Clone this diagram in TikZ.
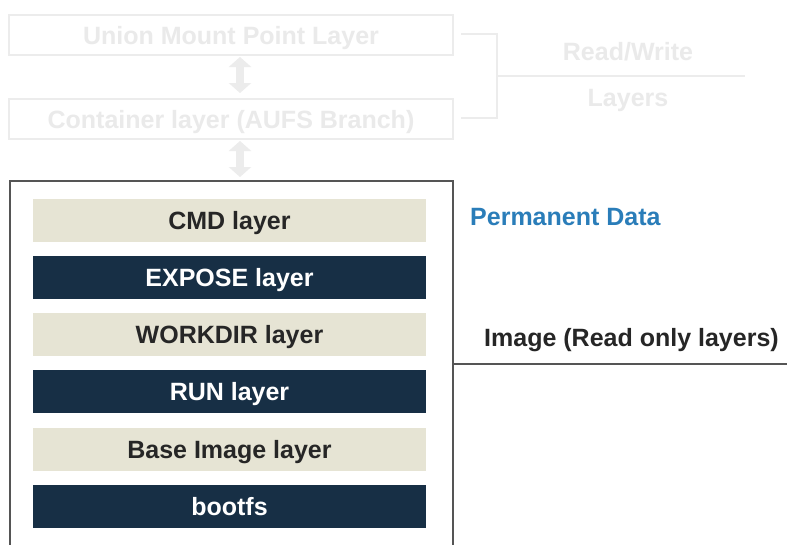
\documentclass[tikz,border=0pt]{standalone}
\usepackage{fontspec}
\setmainfont{Liberation Sans}
\usetikzlibrary{arrows.meta}
\definecolor{beige}{HTML}{E6E4D4}
\definecolor{navy}{HTML}{172F45}
\definecolor{faded}{HTML}{ECECEC}
\definecolor{fadetext}{HTML}{EAEAEA}
\definecolor{permblue}{HTML}{2A7DB9}
\definecolor{boxgrey}{HTML}{555555}
\begin{document}
\begin{tikzpicture}[x=1pt,y=-1pt,
  every node/.style={font=\fontsize{25}{30}\selectfont\bfseries, inner sep=0pt, text height=18pt, text depth=0pt},
  fadebox/.style={draw=faded, line width=1.5pt, minimum width=444pt, minimum height=40pt, text=fadetext},
  lightlayer/.style={fill=beige, minimum width=393pt, minimum height=43pt, text=black!85},
  darklayer/.style={fill=navy, minimum width=393pt, minimum height=43pt, text=white},
  fadearrow/.style={draw=faded, line width=8pt, {Triangle[width=22pt,length=10pt]}-{Triangle[width=22pt,length=10pt]}},
  fadeline/.style={draw=faded, line width=1.5pt},
  greyline/.style={draw=boxgrey, line width=2pt}]
\useasboundingbox (0,0) rectangle (787,544);
\fill[white] (0,0) rectangle (787,544);
% faded read/write part
\node[fadebox] (union) at (231,35) {Union Mount Point Layer};
\node[fadebox] (cont) at (231,119) {Container layer (AUFS Branch)};
\coordinate (a1) at (240,57);
\coordinate (a2) at (240,93);
\coordinate (a3) at (240,141);
\coordinate (a4) at (240,177);
\draw[fadearrow] (a1) -- (a2);
\draw[fadearrow] (a3) -- (a4);
\coordinate (b1) at (461,34);
\coordinate (b2) at (497,34);
\coordinate (b3) at (497,118);
\coordinate (b4) at (461,118);
\coordinate (bm) at (497,76);
\coordinate (be) at (745,76);
\draw[fadeline] (b1) -- (b2) -- (b3) -- (b4);
\draw[fadeline] (bm) -- (be);
\node[text=fadetext] (rw) at (628,51) {Read/Write};
\node[text=fadetext] (lay) at (628,97) {Layers};
% image box
\coordinate (m1) at (10,550);
\coordinate (m2) at (10,181);
\coordinate (m3) at (453,181);
\coordinate (m4) at (453,550);
\draw[greyline] (m1) -- (m2) -- (m3) -- (m4);
\coordinate (i1) at (453,364);
\coordinate (i2) at (790,364);
\draw[greyline] (i1) -- (i2);
\node[lightlayer] (cmd) at (229.5,220) {CMD layer};
\node[darklayer] (expose) at (229.5,277.5) {EXPOSE layer};
\node[lightlayer] (workdir) at (229.5,334) {WORKDIR layer};
\node[darklayer] (run) at (229.5,391.5) {RUN layer};
\node[lightlayer] (base) at (229.5,449) {Base Image layer};
\node[darklayer] (bootfs) at (229.5,506.5) {bootfs};
\node[text=permblue, anchor=west] (perm) at (470,216) {Permanent Data};
\node[text=black!85, anchor=west] (img) at (484,337) {Image (Read only layers)};
\end{tikzpicture}
\end{document}
